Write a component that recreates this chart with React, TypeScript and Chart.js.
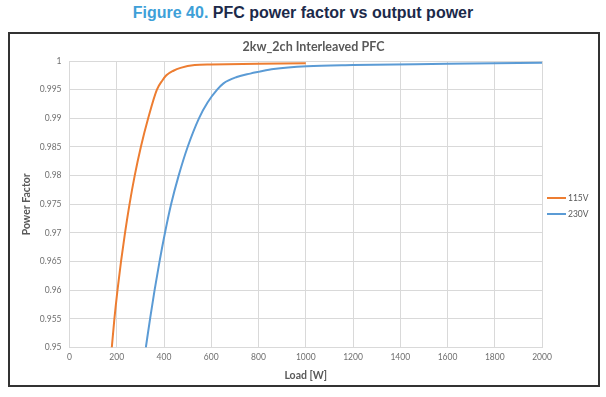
import React, { useEffect, useRef } from "react";
import { Chart, registerables } from "chart.js";

Chart.register(...registerables);

const figureLabel = "Figure 40.";
const figureText = " PFC power factor vs output power";
const chartTitle = "2kw_2ch Interleaved PFC";
const xTitle = "Load [W]";
const yTitle = "Power Factor";

const seriesNames = ["115V", "230V"];
const seriesColors = ["#ed7d31", "#5b9bd5"];

const loads115 = [179, 190, 203, 218, 235, 254, 276, 302, 333, 370, 393, 410, 440, 470, 530, 600, 800, 1000];
const pf115 = [0.95, 0.955, 0.96, 0.965, 0.97, 0.975, 0.98, 0.985, 0.99, 0.995, 0.9966, 0.9975, 0.9983, 0.9988, 0.9993, 0.9994, 0.9995, 0.9996];

const loads230 = [323, 341, 360, 381, 404, 430, 462, 500, 548, 585, 625, 652, 708, 765, 800, 864, 1005, 1200, 1600, 2000];
const pf230 = [0.95, 0.955, 0.96, 0.965, 0.97, 0.975, 0.98, 0.985, 0.99, 0.9928, 0.995, 0.9961, 0.9972, 0.9978, 0.9981, 0.9986, 0.9991, 0.9993, 0.9995, 0.9997];

const yTicks = [0.95, 0.955, 0.96, 0.965, 0.97, 0.975, 0.98, 0.985, 0.99, 0.995, 1];
const xMin = 0;
const xMax = 2000;
const xStep = 200;

const FONT = "Lato, 'Open Sans', sans-serif";

const overlayPlugin = {
  id: "overlay",
  afterDraw(chart: any) {
    const ctx = chart.ctx;
    ctx.save();
    ctx.font = `bold 12.5px ${FONT}`;
    ctx.fillStyle = "#595959";
    ctx.textAlign = "center";
    ctx.textBaseline = "middle";
    ctx.fillText(chartTitle, 303.5, 13);
    chart.data.datasets.forEach((ds: any, i: number) => {
      const y = 164 + i * 16;
      ctx.strokeStyle = ds.borderColor;
      ctx.lineWidth = 2;
      ctx.beginPath();
      ctx.moveTo(537, y);
      ctx.lineTo(556, y);
      ctx.stroke();
      ctx.font = `8.5px ${FONT}`;
      ctx.fillStyle = "#595959";
      ctx.textAlign = "left";
      ctx.fillText(ds.label, 558, y);
    });
    ctx.restore();
  },
};

export default function App() {
  const canvasRef = useRef<HTMLCanvasElement | null>(null);

  useEffect(() => {
    if (!canvasRef.current) return;
    const chart = new Chart(canvasRef.current, {
      type: "line",
      data: {
        datasets: [
          {
            label: seriesNames[0],
            data: loads115.map((x, i) => ({ x, y: pf115[i] })),
            borderColor: seriesColors[0],
            backgroundColor: seriesColors[0],
            borderWidth: 2,
            pointRadius: 0,
            cubicInterpolationMode: "monotone",
            fill: false,
          },
          {
            label: seriesNames[1],
            data: loads230.map((x, i) => ({ x, y: pf230[i] })),
            borderColor: seriesColors[1],
            backgroundColor: seriesColors[1],
            borderWidth: 2,
            pointRadius: 0,
            cubicInterpolationMode: "monotone",
            fill: false,
          },
        ],
      },
      options: {
        animation: false,
        responsive: false,
        maintainAspectRatio: false,
        layout: { padding: { top: 27, right: 56, left: 0, bottom: 0 } },
        plugins: {
          legend: { display: false },
          title: { display: false },
          tooltip: { enabled: false },
        },
        scales: {
          x: {
            type: "linear",
            min: xMin,
            max: xMax,
            afterFit: (s: any) => {
              s.height = 37.4;
            },
            ticks: {
              stepSize: xStep,
              color: "#6f6f6f",
              font: { family: FONT, size: 8.5 },
              padding: 5,
              maxRotation: 0,
              callback: (v: any) => String(v),
            },
            grid: { color: "#d9d9d9", lineWidth: 1, drawTicks: false },
            border: { color: "#d9d9d9" },
            title: {
              display: true,
              text: xTitle,
              color: "#595959",
              font: { family: FONT, size: 10.5, weight: "bold" },
              padding: { top: 0, bottom: 3.5 },
            },
          },
          y: {
            type: "linear",
            min: yTicks[0],
            max: yTicks[yTicks.length - 1],
            afterFit: (s: any) => {
              s.width = 59.5;
            },
            afterBuildTicks: (s: any) => {
              s.ticks = yTicks.map((v) => ({ value: v }));
            },
            ticks: {
              color: "#6f6f6f",
              font: { family: FONT, size: 8.5 },
              padding: 8,
              callback: (v: any) => String(parseFloat(Number(v).toFixed(3))),
            },
            grid: { color: "#d9d9d9", lineWidth: 1, drawTicks: false },
            border: { color: "#d9d9d9" },
            title: {
              display: true,
              text: yTitle,
              color: "#595959",
              font: { family: FONT, size: 10.5, weight: "bold" },
              padding: { top: 10, bottom: 0 },
            },
          },
        },
      },
      plugins: [overlayPlugin],
    });
    return () => chart.destroy();
  }, []);

  return (
    <div
      style={{
        position: "fixed",
        left: 0,
        top: 0,
        width: 606,
        height: 397,
        background: "#ffffff",
        overflow: "hidden",
      }}
    >
      <div
        style={{
          position: "absolute",
          left: 0,
          top: 3,
          width: 606,
          textAlign: "center",
          fontFamily: "'Liberation Sans', Arial, sans-serif",
          fontWeight: "bold",
          fontSize: 16,
          lineHeight: "19px",
          color: "#1c2a4a",
          whiteSpace: "nowrap",
        }}
      >
        <span style={{ color: "#3ea0d8" }}>{figureLabel}</span>
        {figureText}
      </div>
      <div
        style={{
          position: "absolute",
          left: 8,
          top: 32,
          width: 592,
          height: 355,
          boxSizing: "border-box",
          border: "2px solid #333333",
        }}
      />
      <canvas
        ref={canvasRef}
        width={588}
        height={351}
        style={{ position: "absolute", left: 10, top: 34, width: 588, height: 351 }}
      />
    </div>
  );
}
